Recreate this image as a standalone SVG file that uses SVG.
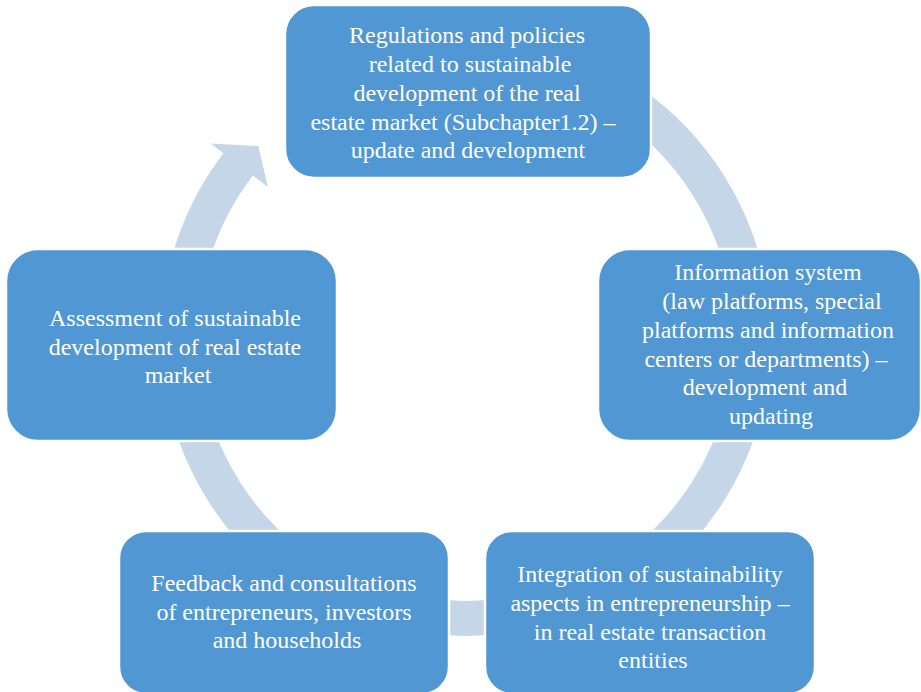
<svg xmlns="http://www.w3.org/2000/svg" width="921" height="692" viewBox="0 0 921 692">
  <style>
    .band { fill: none; stroke: #C5D6E9; stroke-width: 37; stroke-linecap: butt; }
    .bandfill { fill: #C5D6E9; stroke: none; }
    .box { fill: #5197D3; stroke: #FFFFFF; stroke-width: 2.5; }
    .label { font-family: "Liberation Serif", "Times New Roman", serif; font-size: 24px; fill: #FFFFFF; text-anchor: middle; }
  </style>
  <rect width="921" height="692" fill="#FFFFFF"/>

  <!-- cycle connectors: arc segments of one ring centred at (466,338) -->
  <g id="connectors">
    <path class="band" d="M 630.3 103.3 A 286.5 286.5 0 0 1 748.1 288.3"/>
    <path class="band" d="M 742.7 412.2 A 286.5 286.5 0 0 1 650.2 557.5"/>
    <path class="band" style="stroke-width:35" d="M 515.7 614.1 A 286.5 286.5 0 0 1 416.3 614.1"/>
    <path class="band" d="M 281.8 557.5 A 286.5 286.5 0 0 1 189.3 412.2"/>
    <!-- last segment ends in an arrowhead pointing back to the first node -->
    <path class="bandfill" d="M 165.6 285 A 305 305 0 0 1 223.4 153.2 L 210.6 143.5 L 258.3 146 L 267.9 187.1 L 252.8 175.6 A 268 268 0 0 0 202.1 291.5 Z"/>
  </g>

  <g id="node-regulations">
    <rect class="box" x="285" y="5" width="366" height="173" rx="29" ry="29"/>
    <text class="label">
      <tspan x="470" y="43">Regulations and policies</tspan>
      <tspan x="473" y="72">related to sustainable</tspan>
      <tspan x="470" y="101">development of the real</tspan>
      <tspan x="466" y="130">estate market (Subchapter1.2) –</tspan>
      <tspan x="468" y="158">update and development</tspan>
    </text>
  </g>

  <g id="node-information-system">
    <rect class="box" x="598" y="249" width="323" height="192" rx="32" ry="32"/>
    <text class="label">
      <tspan x="771" y="280">Information system</tspan>
      <tspan x="775" y="309">(law platforms, special</tspan>
      <tspan x="771" y="338">platforms and information</tspan>
      <tspan x="769" y="367">centers or departments) –</tspan>
      <tspan x="768" y="395">development and</tspan>
      <tspan x="771" y="424">updating</tspan>
    </text>
  </g>

  <g id="node-integration">
    <rect class="box" x="485" y="531" width="330" height="163" rx="27" ry="27"/>
    <text class="label">
      <tspan x="653" y="582">Integration of sustainability</tspan>
      <tspan x="653" y="611">aspects in entrepreneurship –</tspan>
      <tspan x="653" y="640">in real estate transaction</tspan>
      <tspan x="653" y="668">entities</tspan>
    </text>
  </g>

  <g id="node-feedback">
    <rect class="box" x="119" y="531" width="330" height="163" rx="27" ry="27"/>
    <text class="label">
      <tspan x="287" y="591">Feedback and consultations</tspan>
      <tspan x="287" y="620">of entrepreneurs, investors</tspan>
      <tspan x="287" y="648">and households</tspan>
    </text>
  </g>

  <g id="node-assessment">
    <rect class="box" x="6" y="249" width="331" height="192" rx="32" ry="32"/>
    <text class="label">
      <tspan x="178" y="326">Assessment of sustainable</tspan>
      <tspan x="178" y="354.5">development of real estate</tspan>
      <tspan x="178" y="383">market</tspan>
    </text>
  </g>
</svg>
